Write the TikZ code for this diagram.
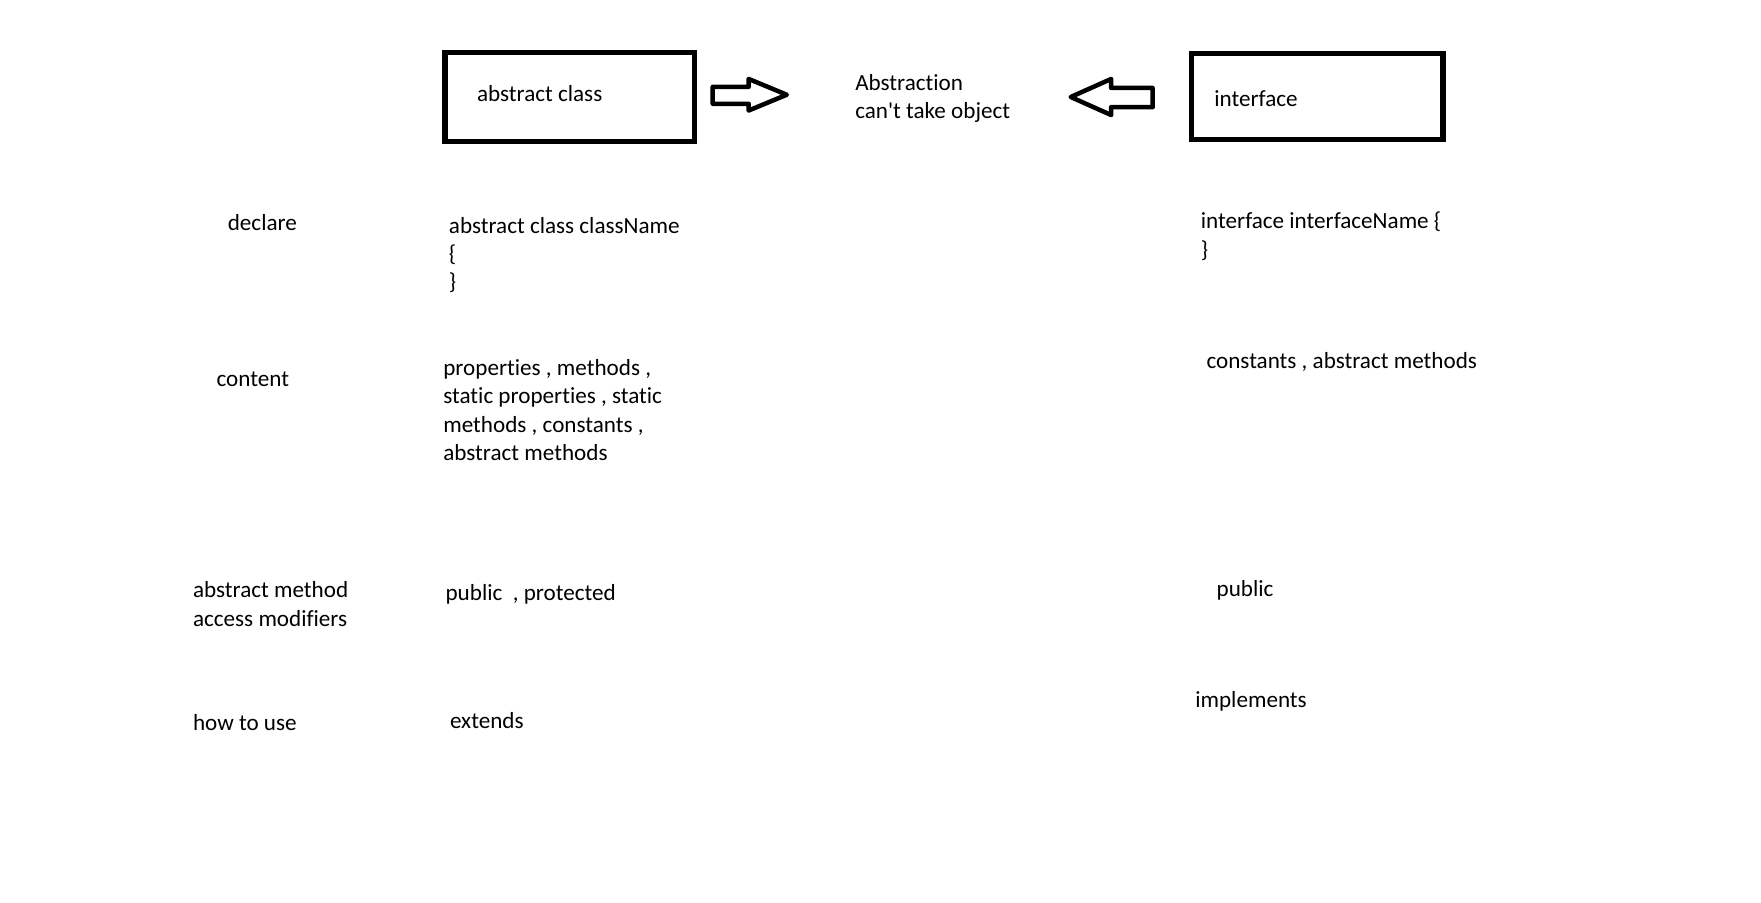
\documentclass[tikz,border=0pt]{standalone}
\usepackage{fontspec}
\setmainfont{Carlito}[Ligatures={TeXOff,NoCommon}]
\usepackage{tikz}

\begin{document}
\begin{tikzpicture}[x=0.4975pt, y=-0.5pt,
	every node/.style={inner sep=0pt, outer sep=0pt, anchor=base west, align=left, font=\fontsize{10.25}{12.5}\selectfont},
	box/.style={draw=black, line width=2.4pt, anchor=center},
	blockarrow/.style={draw=black, line width=2pt, line join=round}]
				\useasboundingbox (0,0) rectangle (1569,800.5);
				
				\node[box, minimum width=110.5pt, minimum height=39.5pt] (absbox) at (507.5,86){};
				\node[box, minimum width=111.5pt, minimum height=38pt] (intbox) at (1173.5,85.5){};
				\node (abslabel) at (425,90){abstract class};
				\node (intlabel) at (1082,94){interface};
				\node (abstraction) at (762,105){Abstraction\\can't take object};
				
				\draw[blockarrow] (635,77) -- (667,77) -- (667,70) -- (701,84) -- (667,98) -- (667,92) -- (635,92) -- cycle;
				\draw[blockarrow] (1027,78) -- (990,78) -- (990,70) -- (954,86) -- (990,102) -- (990,95) -- (1027,95) -- cycle;
				
				\node (declare) at (203,204){declare};
				\node (absdecl) at (400,257){abstract class className\\\{\\\}};
				\node (intdecl) at (1070,228){interface interfaceName \{\\\}};
				
				\node (content) at (193,343){content};
				\node (abscontent) at (395,408){properties , methods ,\\static properties , static\\methods , constants ,\\abstract methods};
				\node (intcontent) at (1075,327){constants , abstract methods};
				
				\node (modifiers) at (172,555){abstract method\\access modifiers};
				\node (absmod) at (397,532){public \ , protected};
				\node (intmod) at (1084,529){public};
				
				\node (howto) at (172,648){how to use};
				\node (absuse) at (401,646){extends};
				\node (intuse) at (1065,627){implements};
				\end{tikzpicture}
\end{document}
